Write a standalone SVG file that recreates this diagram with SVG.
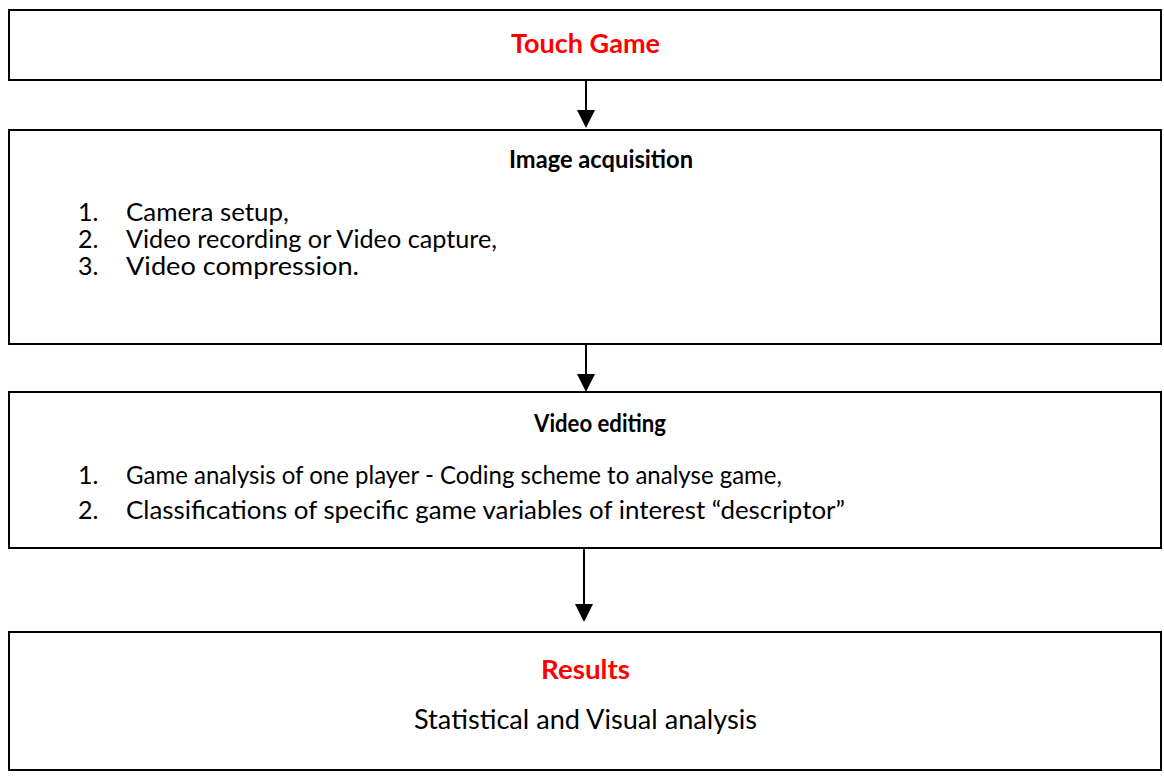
<svg xmlns="http://www.w3.org/2000/svg" width="1164" height="778" viewBox="0 0 1164 778">
  <defs>
    <style>
      .box { fill: #fff; stroke: #000; stroke-width: 2; }
      .t { font-family: Lato, "Open Sans", sans-serif; font-size: 25px; fill: #000; }
      .h { font-weight: bold; text-anchor: middle; font-size: 24px; }
      .big { font-size: 26px; }
      .red { fill: #ff0000; }
      .c { text-anchor: middle; }
      .conn { stroke: #000; stroke-width: 2; fill: none; }
      .head { fill: #000; }
    </style>
  </defs>
  <rect width="1164" height="778" fill="#fff"/>
  <g id="connectors">
    <line class="conn" x1="586" y1="80" x2="586" y2="113"/>
    <path class="head" d="M577,110 L595,110 L586,128 Z"/>
    <line class="conn" x1="586" y1="345" x2="586" y2="377"/>
    <path class="head" d="M577,374 L595,374 L586,392 Z"/>
    <line class="conn" x1="584" y1="548" x2="584" y2="607"/>
    <path class="head" d="M575,604 L593,604 L584,622 Z"/>
  </g>
  <g id="touch-game">
    <rect class="box" x="9" y="10" width="1152" height="70"/>
    <text class="t h big red" x="585.5" y="53" textLength="149" lengthAdjust="spacingAndGlyphs">Touch Game</text>
  </g>
  <g id="image-acquisition">
    <rect class="box" x="9" y="130" width="1152" height="214"/>
    <text class="t h" x="601" y="168" textLength="184" lengthAdjust="spacingAndGlyphs">Image acquisition</text>
    <text class="t" x="78" y="221">1.</text><text class="t" x="126" y="221" textLength="163" lengthAdjust="spacingAndGlyphs">Camera setup,</text>
    <text class="t" x="78" y="248">2.</text><text class="t" x="126" y="248" textLength="371" lengthAdjust="spacingAndGlyphs">Video recording or Video capture,</text>
    <text class="t" x="78" y="275">3.</text><text class="t" x="126" y="275" textLength="233" lengthAdjust="spacingAndGlyphs">Video compression.</text>
  </g>
  <g id="video-editing">
    <rect class="box" x="9" y="392" width="1152" height="156"/>
    <text class="t h" x="600" y="432" textLength="132" lengthAdjust="spacingAndGlyphs">Video editing</text>
    <text class="t" x="78" y="484">1.</text><text class="t" x="126" y="484" textLength="656" lengthAdjust="spacingAndGlyphs">Game analysis of one player - Coding scheme to analyse game,</text>
    <text class="t" x="78" y="519">2.</text><text class="t" x="126" y="519" textLength="719" lengthAdjust="spacingAndGlyphs">Classifications of specific game variables of interest “descriptor”</text>
  </g>
  <g id="results">
    <rect class="box" x="9" y="632" width="1152" height="138"/>
    <text class="t h big red" x="585.5" y="679" textLength="89" lengthAdjust="spacingAndGlyphs">Results</text>
    <text class="t big c" x="585.5" y="729" textLength="343" lengthAdjust="spacingAndGlyphs">Statistical and Visual analysis</text>
  </g>
</svg>
